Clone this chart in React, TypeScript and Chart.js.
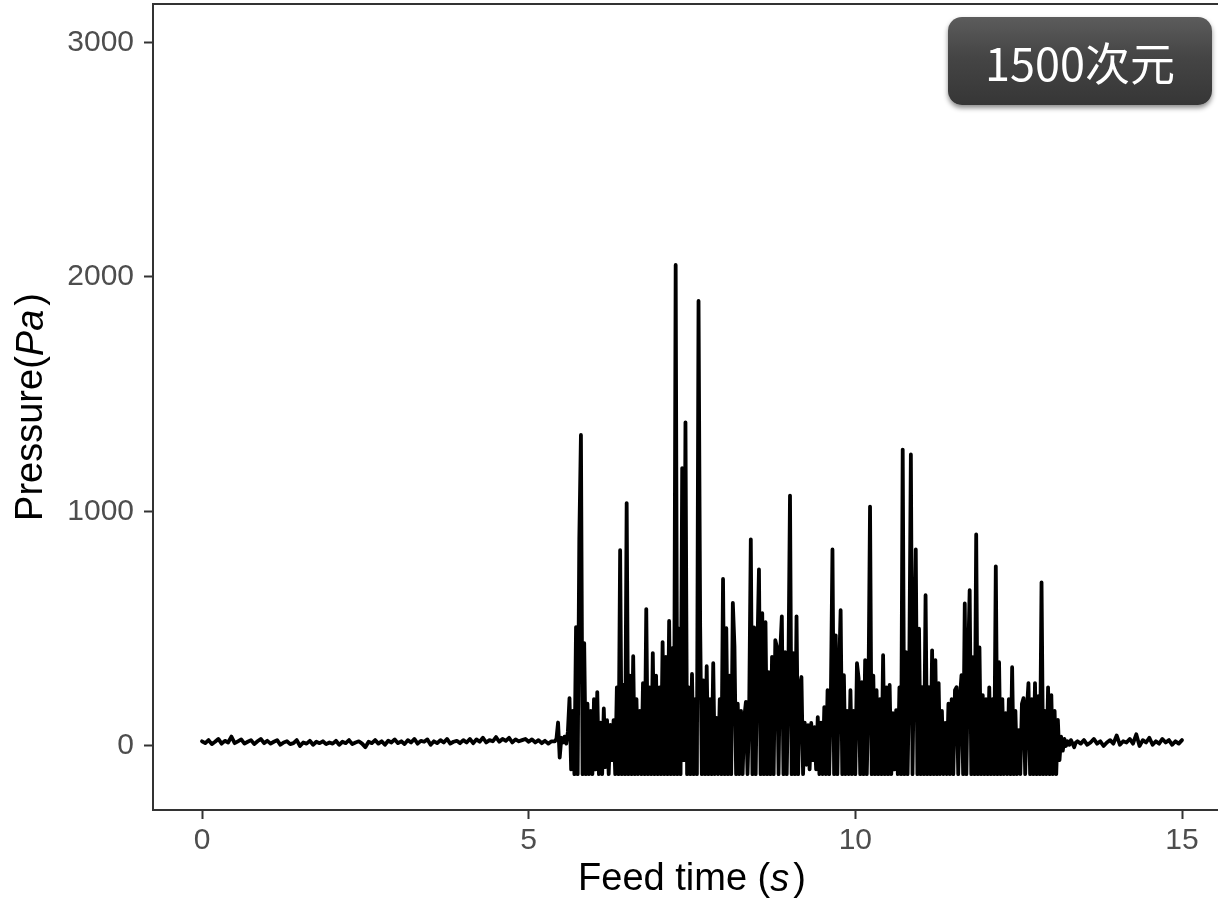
import React, { useEffect, useRef } from "react";
import { Chart, registerables } from "chart.js";

Chart.register(...registerables);

// ---- Data ----
// Quiet period before the feed burst, sampled every 0.05 s from 0 s
const BEFORE_START = 0;
const BEFORE_STEP = 0.05;
const pressureBefore = [
  20, 12, 25, 8, 18, 30, 10, 22, 15, 40, 12, 20, 28, 10, 18, 25, 8, 20, 30, 12,
  22, 10, 18, 25, 5, 15, 20, 8, 12, 25, 0, 15, 10, 22, 5, 18, 12, 20, 8, 15,
  10, 22, 5, 18, 12, 25, 8, 15, 20, 10, -5, 18, 12, 25, 10, 20, 5, 22, 15, 28,
  12, 20, 8, 25, 15, 30, 10, 22, 18, 28, 5, 20, 12, 25, 15, 30, 10, 18, 22, 12,
  25, 15, 30, 12, 28, 18, 35, 15, 25, 20, 38, 18, 30, 22, 35, 15, 28, 20, 25, 30,
  18, 28, 15, 25, 12, 22, 10, 20,
];

// Burst period, sampled every 0.025 s from 5.40 s
const BURST_START = 5.4;
const BURST_STEP = 0.025;
const pressureBurst = [
  20, 30, 100, -50, 35, 15, 40, 10, 60, 204, -100, 150, -120, 507, -120, 880, 1326, -120, 438, -120,
  180, -120, 150, -120, 200, -100, 230, -120, 100, -120, 160, -90, 110, -120, 90, -60, 110, -120, 250, -120,
  835, -120, 260, -120, 1036, -120, 300, -120, 383, -120, 200, -120, 150, -120, 268, -120, 584, -120, 250, -120,
  396, -120, 300, -120, 250, -120, 443, -120, 380, -120, 533, -120, 417, -120, 2051, -120, 500, -120, 1185, -60,
  1380, -120, 250, -120, 307, -120, 200, -120, 1898, 507, -120, 280, -120, 340, -120, 200, -120, 353, -120, 120,
  -120, 200, -120, 712, -120, 502, -120, 300, -120, 610, 425, -120, 180, -120, 150, -120, 120, 188, -120, 150,
  881, -120, 506, -120, 400, 753, -120, 566, -120, 528, -120, 315, -120, 380, -120, 451, 421, -120, 400, 553,
  -120, 400, -120, 300, 1068, -120, 396, -120, 553, -120, 250, 294, -120, 100, -80, 89, -100, 98, -60, 80,
  -100, 123, -120, 100, -120, 166, -120, 238, -120, 200, 838, -120, 472, -120, 300, 579, -120, 302, -120, 150,
  -120, 238, -120, 150, -120, 353, 289, -120, 272, -120, 366, -120, 200, 1021, -120, 300, -120, 238, -120, 200,
  -120, 387, -120, 250, -120, 260, -120, 140, -100, 153, -120, 250, -120, 1264, -120, 400, -120, 300, 1243, -120,
  400, 838, -120, 500, -120, 251, -120, 643, -120, 251, -120, 408, -120, 366, -120, 268, -120, 150, -120, 98,
  -120, 180, -120, 200, -120, 238, 251, -120, 200, 302, -120, 608, -120, 350, 664, -120, 379, -120, 902, -120,
  420, -120, 217, -120, 200, -120, 250, -120, 200, -120, 766, -120, 357, -120, 200, -120, 140, -120, 200, -120,
  336, -120, 150, -120, 68, -120, 180, 204, -120, 150, 268, -120, 200, -120, 268, -120, 213, -120, 698, -120,
  150, -120, 250, -120, 217, -120, 150, -120, 111, -60, 40, -20, 30, 0, 20, 5, 25, 10, -5, 15,
];

// Quiet period after the burst, sampled every 0.05 s from 13.40 s
const AFTER_START = 13.4;
const AFTER_STEP = 0.05;
const pressureAfter = [
  20, 10, 25, 5, 15, 30, 10, 20, 0, 15, 25, 10, 45, 5, 20, 15, 30, 10, 50, 0,
  25, 15, 35, 5, 20, 10, 30, 15, 25, 5, 20, 10, 25,
];

const xTicks = [0, 5, 10, 15];
const yTicks = [0, 1000, 2000, 3000];
const xTitle = ["Feed time (", "s", ")"];
const yTitle = ["Pressure(", "Pa", ")"];
const badgeText = "1500次元";

function toPoints(start: number, step: number, values: number[]) {
  return values.map((v, i) => ({ x: +(start + i * step).toFixed(4), y: v }));
}

const FONT = "'Liberation Sans', Arial, sans-serif";

const framePlugin = {
  id: "frameAndTitles",
  afterDraw(chart: any) {
    const { ctx, chartArea } = chart;
    const { left, right, top, bottom } = chartArea;
    ctx.save();
    ctx.strokeStyle = "#333333";
    ctx.lineWidth = 2;
    ctx.strokeRect(left, top, right - left, bottom - top);

    const drawParts = (parts: string[], size: number) => {
      const fonts = [
        `${size}px ${FONT}`,
        `italic ${size}px ${FONT}`,
        `${size}px ${FONT}`,
      ];
      const gap = 4;
      const widths = parts.map((p, i) => {
        ctx.font = fonts[i];
        return ctx.measureText(p).width;
      });
      const total = widths[0] + widths[1] + widths[2] + gap;
      let x = -total / 2;
      parts.forEach((p, i) => {
        ctx.font = fonts[i];
        ctx.fillText(p, x, 0);
        x += widths[i] + (i === 1 ? gap : 0);
      });
    };

    ctx.fillStyle = "#000000";
    ctx.textBaseline = "middle";
    ctx.textAlign = "left";

    ctx.save();
    ctx.translate((left + right) / 2, 880);
    drawParts(xTitle, 38);
    ctx.restore();

    ctx.save();
    ctx.translate(32, (top + bottom) / 2);
    ctx.rotate(-Math.PI / 2);
    drawParts(yTitle, 38);
    ctx.restore();

    ctx.restore();
  },
};

export default function App() {
  const canvasRef = useRef<HTMLCanvasElement | null>(null);

  useEffect(() => {
    document.body.style.margin = "0";
    const canvas = canvasRef.current;
    if (!canvas) return;
    const data = [
      ...toPoints(BEFORE_START, BEFORE_STEP, pressureBefore),
      ...toPoints(BURST_START, BURST_STEP, pressureBurst),
      ...toPoints(AFTER_START, AFTER_STEP, pressureAfter),
    ];
    const chart = new Chart(canvas, {
      type: "line",
      data: {
        datasets: [
          {
            data,
            borderColor: "#000000",
            borderWidth: 3.8,
            pointRadius: 0,
            tension: 0,
            fill: false,
            borderJoinStyle: "round",
            borderCapStyle: "round",
          } as any,
        ],
      },
      options: {
        animation: false,
        responsive: false,
        devicePixelRatio: 1,
        layout: { padding: { left: 0, top: 4, right: 9, bottom: 0 } },
        plugins: { legend: { display: false }, tooltip: { enabled: false } },
        scales: {
          x: {
            type: "linear",
            min: -0.75,
            max: 15.75,
            afterBuildTicks: (s: any) => {
              s.ticks = xTicks.map((v) => ({ value: v }));
            },
            afterFit: (s: any) => {
              s.height = 95;
              s.paddingLeft = 0;
              s.paddingRight = 0;
            },
            grid: {
              drawOnChartArea: false,
              drawTicks: true,
              tickLength: 9,
              color: "#333333",
              tickWidth: 2,
            },
            border: { display: false },
            ticks: {
              color: "#4d4d4d",
              font: { family: FONT, size: 30 },
              padding: 4,
              maxRotation: 0,
              autoSkip: false,
              callback: (v: any) => String(v),
            },
          },
          y: {
            type: "linear",
            min: -273,
            max: 3164,
            afterBuildTicks: (s: any) => {
              s.ticks = yTicks.map((v) => ({ value: v }));
            },
            afterFit: (s: any) => {
              s.width = 153;
              s.paddingTop = 0;
              s.paddingBottom = 0;
            },
            grid: {
              drawOnChartArea: false,
              drawTicks: true,
              tickLength: 9,
              color: "#333333",
              tickWidth: 2,
            },
            border: { display: false },
            ticks: {
              color: "#4d4d4d",
              font: { family: FONT, size: 30 },
              padding: 10,
              autoSkip: false,
              callback: (v: any) => String(v),
            },
          },
        },
      },
      plugins: [framePlugin],
    });
    return () => chart.destroy();
  }, []);

  return (
    <div
      style={{
        position: "fixed",
        left: 0,
        top: 0,
        width: 1218,
        height: 905,
        overflow: "hidden",
        background: "#ffffff",
      }}
    >
      <div style={{ position: "relative", width: 1240, height: 905 }}>
        <canvas ref={canvasRef} width={1240} height={905} style={{ display: "block" }} />
        <div
          style={{
            position: "absolute",
            left: 948,
            top: 17,
            width: 264,
            height: 88,
            borderRadius: 14,
            background: "linear-gradient(to bottom, #5c5c5c 0%, #454545 45%, #363636 100%)",
            boxShadow: "0 3px 5px rgba(0,0,0,0.45)",
            color: "#ffffff",
            fontFamily: "'Noto Sans CJK SC', 'Noto Sans', sans-serif",
            fontSize: 45,
            display: "flex",
            alignItems: "center",
            justifyContent: "center",
            lineHeight: 1,
          }}
        >
          {badgeText}
        </div>
      </div>
    </div>
  );
}
